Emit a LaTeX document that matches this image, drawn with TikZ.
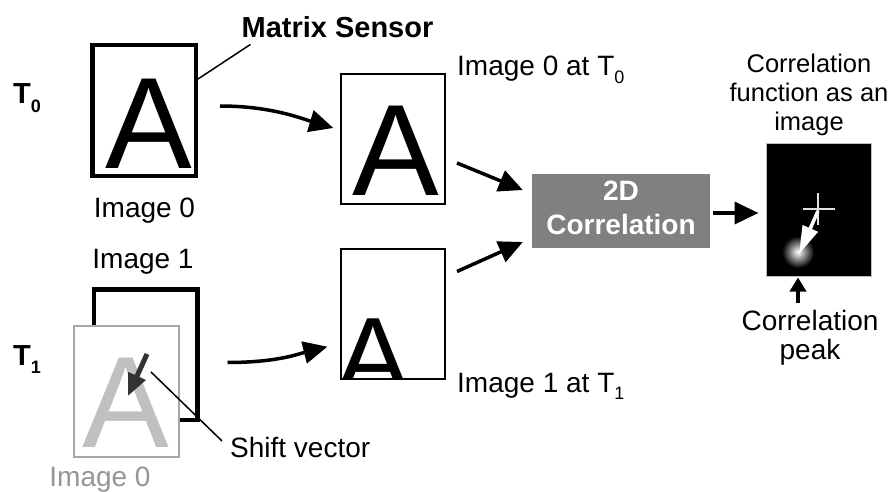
\documentclass[tikz,border=0pt]{standalone}
\usepackage{fontspec}
\setmainfont{Liberation Sans}
\usetikzlibrary{arrows.meta,calc}
\definecolor{boxgray}{RGB}{128,128,128}
\definecolor{lightA}{RGB}{192,192,192}
\definecolor{framegray}{RGB}{166,166,166}
\definecolor{textgray}{RGB}{150,150,150}
\definecolor{darkarrow}{RGB}{51,51,51}
\newcommand\mysub[1]{\raisebox{-0.28em}{\fontsize{18}{18}\selectfont #1}}
\begin{document}
\begin{tikzpicture}[x=1pt,y=-1pt,
  txt/.style={font=\fontsize{28}{29.5}\selectfont, inner sep=0pt},
  btxt/.style={font=\fontsize{29}{31}\selectfont\bfseries, inner sep=0pt},
  bigA/.style={font=\fontsize{130}{130}\selectfont, inner sep=0pt, anchor=base},
  sensor/.style={draw, line width=4.5pt, minimum width=103.5pt, minimum height=130.5pt, inner sep=0pt},
  frame/.style={draw, line width=2pt, minimum width=104pt, minimum height=130pt, inner sep=0pt},
  conn/.style={line width=3.5pt, -{Triangle[length=24pt,width=22pt]}},
  thinline/.style={line width=1.5pt},
]
\useasboundingbox (0,0) rectangle (891,492);
\fill[white] (0,0) rectangle (891,492);

% row T0
\node[btxt, anchor=base west] (t0) at (13,104) {T\mysub{0}};
\node[sensor] (s0) at (144,110.5) {};
\node[bigA] (a0) at (148.5,168) {A};
\node[txt, anchor=base] (l0) at (144.5,217) {Image 0};
\node[btxt, anchor=base] (ms) at (337.5,38) {Matrix Sensor};
\draw[thinline] ($(s0.east)+(0,-31.5)$) -- ($(ms.south west)+(9,6)$);

\node[frame] (i0) at (393,139) {};
\node[bigA] (a0b) at (396,195) {A};
\node[txt, anchor=base west] (i0l) at (457,76) {Image 0 at T\mysub{0}};

% row T1
\node[txt, anchor=base] (l1) at (143,268) {Image 1};
\node[btxt, anchor=base west] (t1) at (13,365) {T\mysub{1}};
\node[sensor] (s1) at (145.5,354.5) {};
\node[draw=framegray, line width=2.5pt, fill=white, minimum width=105pt, minimum height=131pt, inner sep=0pt] (g0) at (126.5,391.5) {};
\node[bigA, text=lightA] (ga) at (126,447) {A};
\node[txt, text=textgray, anchor=base] (gl) at (100,486) {Image 0};
\coordinate (sva) at (147,354);
\coordinate (svb) at (128,396);
\draw[line width=5pt, darkarrow, -{Triangle[length=22pt,width=18pt]}] (sva) -- (svb);
\node[txt, anchor=base west] (sv) at (230,457) {Shift vector};
\coordinate (svl) at (151,372);
\draw[thinline] (svl) -- ($(sv.west)+(-8,-6)$);

\node[frame] (i1) at (393,313.5) {};
\begin{scope}
\clip (i1.south west) rectangle (i1.north east);
\node[bigA, font=\fontsize{110}{110}\selectfont] (a1) at (373,394) {A};
\end{scope}
\node[frame] at (i1) {};
\node[txt, anchor=base west] (i1l) at (457,392) {Image 1 at T\mysub{1}};

% correlation
\node[fill=boxgray, minimum width=178pt, minimum height=74pt, inner sep=0pt, text=white,
  font=\fontsize{28}{34}\selectfont\bfseries, align=center, text depth=6pt] (corr) at (621,211) {2D\\Correlation};

\node[fill=black, draw=gray!50, line width=1pt, minimum width=105pt, minimum height=133pt, inner sep=0pt] (ci) at (818.5,209.5) {};
\shade[inner color=white, outer color=black] (798,252) circle (16);
\draw[gray!25, line width=2pt] (803,209) -- (835,209) (818,193) -- (818,225);
\draw[white, line width=3.5pt, -{Triangle[length=28pt,width=16pt]}] (818,211) -- (799,254);

\node[txt, font=\fontsize{25.5}{29}\selectfont, align=center, anchor=base] (cft) at (809,131) {Correlation\\function as an\\image};
\node[txt, align=center, anchor=base] (pk) at (810,359.5) {Correlation\\peak};

% connectors
\draw[conn, shorten >=7pt] ($(s0.east)+(22,-4.5)$) .. controls +(50,0) and +(-40,-12) .. ($(i0.west)+(0,-9)$);
\draw[conn, shorten >=13pt] ($(s1.east)+(28,8)$) .. controls +(50,0) and +(-40,10) .. ($(i1.west)+(0,30)$);
\draw[conn] ($(i0.east)+(11,24)$) -- ($(corr.west)+(-9,-21)$);
\draw[conn] ($(i1.east)+(11,-42)$) -- ($(corr.west)+(-9,31)$);
\draw[conn] ($(corr.east)+(3,2)$) -- ($(ci.west)+(-7,3.5)$);
\coordinate (pkt) at (798,303);
\draw[line width=3.5pt, -{Triangle[length=14pt,width=16pt]}] (pkt) -- ($(pkt |- ci.south)+(0,1)$);
\end{tikzpicture}
\end{document}
